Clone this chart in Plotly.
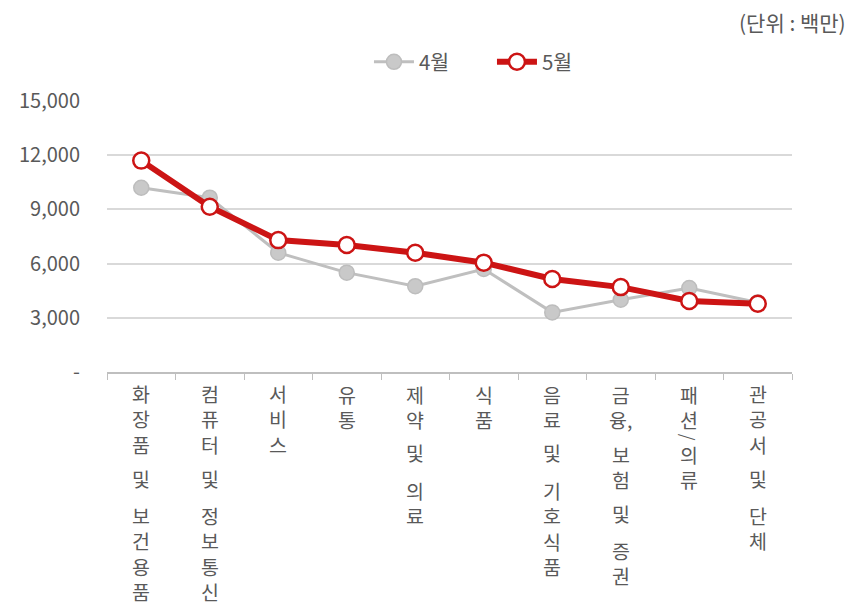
import plotly.graph_objects as go

categories = ["화장품 및 보건용품", "컴퓨터 및 정보통신", "서비스", "유통", "제약 및 의료",
              "식품", "음료 및 기호식품", "금융, 보험 및 증권", "패션/의류", "관공서 및 단체"]
april = [10200, 9650, 6600, 5500, 4750, 5700, 3300, 4000, 4650, 3850]
may = [11700, 9150, 7300, 7030, 6600, 6050, 5150, 4700, 3930, 3780]
y_tickvals = [0, 3000, 6000, 9000, 12000, 15000]
y_ticktext = ["-", "3,000", "6,000", "9,000", "12,000", "15,000"]
series_names = ["4월", "5월"]
unit_text = "(단위 : 백만)"

FONT = "Noto Sans CJK KR, Noto Sans, sans-serif"
TXT = "#595959"
GRAY = "#bfbfbf"
RED = "#cc1414"

fig = go.Figure()
fig.add_trace(go.Scatter(
    x=categories, y=april, name=series_names[0], mode="lines+markers",
    line=dict(color=GRAY, width=3),
    marker=dict(symbol="circle", size=15, color="#c9c9c9", line=dict(color="#bdbdbd", width=1.5)),
))
fig.add_trace(go.Scatter(
    x=categories, y=may, name=series_names[1], mode="lines+markers",
    line=dict(color=RED, width=6),
    marker=dict(symbol="circle", size=16, color="white", line=dict(color=RED, width=2.5)),
))

# vertical (stacked) category labels
FS = 19.5
L = 1.3 * FS      # line pitch
G = 10            # extra gap for a space
FIRST = 22        # first char centre below the axis (px)
annotations = []
for cat in categories:
    cursor = FIRST
    word = []
    word_start = None

    def flush(word, word_start):
        if word:
            n = len(word)
            centre = word_start + (n - 1) * L / 2
            if n == 1:
                centre -= 2
            else:
                centre += 0
            annotations.append(dict(
                x=cat, xref="x", y=0, yref="paper", yanchor="middle", xanchor="center",
                yshift=-centre, text="<br>".join(word), showarrow=False, borderpad=0,
                font=dict(family=FONT, size=FS, color=TXT)))

    for ch in cat:
        if ch == " ":
            flush(word, word_start); word = []; word_start = None
            cursor += G
        elif ch == "/":
            flush(word, word_start); word = []; word_start = None
            centre = cursor - L / 2 + G / 2
            annotations.append(dict(
                x=cat, xref="x", y=0, yref="paper", yanchor="middle", xanchor="center",
                yshift=-centre, text="/", textangle=90, showarrow=False, borderpad=0,
                font=dict(family=FONT, size=FS - 2, color=TXT)))
            cursor += G
        elif ch == ",":
            if word:
                word[-1] = word[-1] + ","
        else:
            if word_start is None:
                word_start = cursor
            word.append(ch)
            cursor += L
    flush(word, word_start)

annotations.append(dict(
    text=unit_text, xref="paper", yref="paper", x=1.082, y=1.291,
    xanchor="right", yanchor="middle", showarrow=False,
    font=dict(family=FONT, size=21, color=TXT)))

fig.update_layout(
    width=852, height=604,
    margin=dict(l=107, r=60, t=101, b=232, autoexpand=False),
    paper_bgcolor="white", plot_bgcolor="white",
    font=dict(family=FONT, color=TXT),
    showlegend=True,
    legend=dict(orientation="h", x=0.562, xanchor="center", y=1.144, yanchor="middle",
                font=dict(family=FONT, size=20.5, color=TXT), bgcolor="rgba(0,0,0,0)",
                itemwidth=40, entrywidth=68, tracegroupgap=0),
    annotations=annotations,
    xaxis=dict(
        type="category", range=[-0.5, 9.5], showticklabels=False, automargin=False,
        showline=True, linecolor=GRAY, linewidth=1.5,
        ticks="outside", tickson="boundaries", ticklen=6, tickcolor=GRAY, tickwidth=1.2,
        showgrid=False, zeroline=False, fixedrange=True,
    ),
    yaxis=dict(
        range=[0, 15000], tickvals=y_tickvals, ticktext=y_ticktext, automargin=False,
        showgrid=True, gridcolor="#d9d9d9", gridwidth=2, zeroline=False,
        showline=False, ticks="", ticklabelstandoff=26,
        tickfont=dict(family=FONT, size=20, color=TXT), fixedrange=True,
    ),
)

fig.write_html("out.html", config={"displayModeBar": False},
               post_script="document.body.style.margin='0px';")
